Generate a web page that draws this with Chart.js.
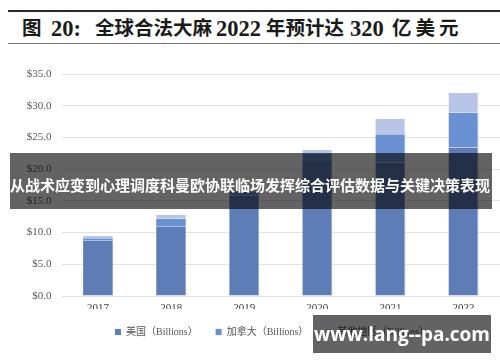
<!DOCTYPE html>
<html>
<head>
<meta charset="utf-8">
<script src="https://cdn.jsdelivr.net/npm/chart.js@4.4.1/dist/chart.umd.min.js"></script>
<style>
  html, body { margin: 0; padding: 0; background: #fff; }
  #wrap { position: relative; width: 500px; height: 362px; overflow: hidden; }
  #chart-box { position: absolute; left: 0; top: 0; width: 500px; height: 362px; }
  .rule-top { position: absolute; left: 8px; right: 0; top: 10px; height: 2px; background: #2a2a2a; }
  .rule-bottom { position: absolute; left: 8px; right: 0; top: 43px; height: 1px; background: #777; }
  .t {
    position: absolute; top: 16px; height: 26px; line-height: 26px;
    font-family: "Liberation Serif", "Noto Sans CJK SC", serif; font-weight: bold;
    font-size: 19.5px; color: #1a1a1a; white-space: nowrap;
  }
  .t.num { font-size: 22.5px; }
  #banner {
    position: absolute; left: 10px; width: 482px; top: 153px; height: 56px;
    background: rgba(0, 0, 0, 0.61); z-index: 2;
  }
  #banner-text {
    position: absolute; left: 0; width: 500px; top: 174px; line-height: 22px;
    text-align: center; color: #fff; font-weight: bold; font-size: 15px;
    font-family: "Noto Sans CJK SC", sans-serif; z-index: 3; white-space: nowrap;
  }
  #mark {
    position: absolute; left: 313px; width: 178px; top: 315px; height: 38px;
    background: rgba(0, 0, 0, 0.61); z-index: 2;
    color: #fff; font-weight: bold; font-size: 19px; line-height: 38px; text-align: center;
    font-family: "Open Sans", "Noto Sans", sans-serif; white-space: nowrap;
  }
</style>
</head>
<body>
<div id="wrap">
  <div class="rule-top"></div>
  <span class="t" style="left:22px">图</span>
  <span class="t num" style="left:51px">20:</span>
  <span class="t" style="left:95px">全球合法大麻</span>
  <span class="t num" style="left:216px">2022</span>
  <span class="t" style="left:266px">年预计达</span>
  <span class="t num" style="left:350px">320</span>
  <span class="t" style="left:392px; letter-spacing:4px">亿美元</span>
  <div class="rule-bottom"></div>
  <div id="chart-box"><canvas id="chart"></canvas></div>
  <div id="banner"></div>
  <div id="banner-text">从战术应变到心理调度科曼欧协联临场发挥综合评估数据与关键决策表现</div>
  <div id="mark">www.lang--pa.com</div>
</div>
<script>
// Values in billions USD
const years = ["2017", "2018", "2019", "2020", "2021", "2022"];
const usValues = [8.7, 10.9, 15.9, 21.3, 21.0, 23.4];
const canadaValues = [0.4, 1.3, 0.5, 1.2, 4.5, 5.5];
const otherValues = [0.4, 0.6, 0.3, 0.5, 2.4, 3.1];
const yTicks = [0, 5, 10, 15, 20, 25, 30, 35];

const SERIF = '"Liberation Serif", "Noto Sans CJK SC", serif';
const PAD_LEFT = 10;
const LEGEND_SHIFT = 17; // legend sits a bit right of the page centre

function series(label, data, color, edge) {
  return {
    label,
    data,
    backgroundColor: color,
    borderColor: edge,
    borderWidth: { left: 0, right: 1, top: 0, bottom: 0 },
    barPercentage: 0.41,
    categoryPercentage: 1,
  };
}

const shiftLegend = {
  id: "shiftLegend",
  afterLayout(chart) {
    if (!chart.legend) return;
    chart.legend.left += LEGEND_SHIFT;
    chart.legend.right += LEGEND_SHIFT;
  },
};

new Chart(document.getElementById("chart"), {
  type: "bar",
  data: {
    labels: years,
    datasets: [
      series("美国（Billions）", usValues, "#5e7db7", "#8ea6d4"),
      series("加拿大（Billions）", canadaValues, "#6990d1", "#94b0e0"),
      series("其他地区（Billions）", otherValues, "#b9c5e6", "#d3dcf1"),
    ],
  },
  plugins: [shiftLegend],
  options: {
    responsive: true,
    maintainAspectRatio: false,
    animation: false,
    layout: { padding: { left: PAD_LEFT, right: 0, top: 74, bottom: 15 } },
    plugins: {
      tooltip: { enabled: false },
      legend: {
        position: "bottom",
        labels: {
          boxWidth: 6,
          boxHeight: 6,
          padding: 18,
          color: "#555",
          font: { family: SERIF, size: 10 },
        },
      },
    },
    scales: {
      x: {
        stacked: true,
        grid: { display: false, drawTicks: false },
        border: { display: false },
        ticks: { color: "#404040", padding: 6, font: { family: SERIF, size: 11 } },
        afterFit: (s) => { s.height = 13; },
      },
      y: {
        stacked: true,
        min: 0,
        max: 35,
        afterBuildTicks: (s) => { s.ticks = yTicks.map((v) => ({ value: v })); },
        grid: { color: "#e3e3e3", drawTicks: false },
        border: { display: false },
        ticks: {
          color: "#595959",
          padding: 10,
          font: { family: SERIF, size: 11 },
          callback: (v) => "$" + Number(v).toFixed(1),
        },
        afterFit: (s) => { s.width = 61.5 - PAD_LEFT; },
      },
    },
  },
});
</script>
</body>
</html>
